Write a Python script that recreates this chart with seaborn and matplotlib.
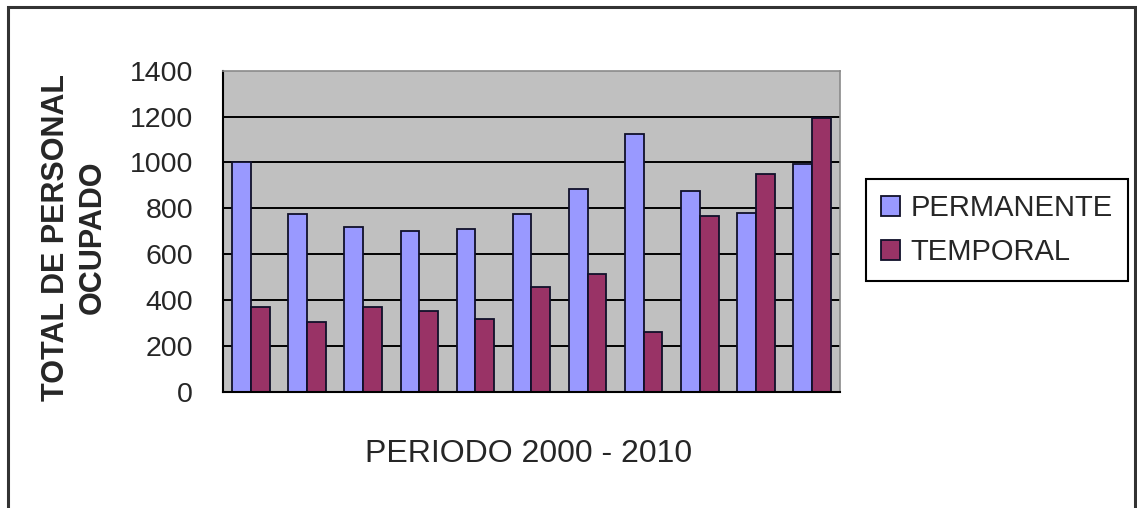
import numpy as np
import pandas as pd
import matplotlib
matplotlib.use("Agg")
import matplotlib.pyplot as plt
import seaborn as sns
from matplotlib.patches import Rectangle

# Personal ocupado por año, 2000-2010
periodos = ["2000", "2001", "2002", "2003", "2004", "2005",
            "2006", "2007", "2008", "2009", "2010"]
permanente = [1000, 775, 720, 700, 710, 775, 885, 1125, 875, 780, 995]
temporal = [370, 305, 370, 350, 318, 458, 512, 262, 768, 950, 1195]
series = ["PERMANENTE", "TEMPORAL"]
colores = ["#9999FF", "#993366"]
yticks = [0, 200, 400, 600, 800, 1000, 1200, 1400]

sns.set_style("white")
plt.rcParams["font.family"] = ["Liberation Sans", "DejaVu Sans"]

df = pd.DataFrame({
    "periodo": periodos * 2,
    "personal": permanente + temporal,
    "tipo": [series[0]] * len(periodos) + [series[1]] * len(periodos),
})

fig = plt.figure(figsize=(11.37, 5.08), dpi=100)
ax = fig.add_axes([0.1961, 0.2289, 0.5427, 0.6319])

sns.barplot(data=df, x="periodo", y="personal", hue="tipo",
            order=periodos, hue_order=series, palette=colores,
            width=0.67, saturation=1, edgecolor="#10102a", linewidth=1.3,
            errorbar=None, ax=ax)

ax.set_xlim(-0.5, len(periodos) - 0.5)
ax.set_ylim(0, 1400)
ax.set_facecolor("#C0C0C0")

ax.set_yticks(yticks)
ax.set_yticklabels([str(v) for v in yticks], fontsize=20.5)
ax.set_xticks(np.arange(-0.5, len(periodos), 1))
ax.set_xticklabels([])
ax.tick_params(axis="y", direction="inout", length=11, width=1.3,
               color="black", pad=16)
ax.tick_params(axis="x", direction="out", length=8, width=1.3, color="black")

# horizontal gridlines (the top edge stays as the grey plot-area border)
ax.yaxis.grid(True, color="black", linewidth=1.4)
ax.xaxis.grid(False)
ax.set_axisbelow(True)
for gl, v in zip(ax.get_ygridlines(), yticks):
    if v in (0, 1400):
        gl.set_visible(False)

for side in ("left", "bottom"):
    ax.spines[side].set_color("black")
    ax.spines[side].set_linewidth(1.5)
for side in ("top", "right"):
    ax.spines[side].set_color("#8a8a8a")
    ax.spines[side].set_linewidth(1.2)

ax.set_ylabel("TOTAL DE PERSONAL\nOCUPADO", fontsize=22, fontweight="bold",
              linespacing=1.3)
ax.yaxis.set_label_coords(-0.186, 0.48)
ax.set_xlabel("PERIODO 2000 - 2010", fontsize=23)
ax.xaxis.set_label_coords(0.495, -0.147)

handles, labels = ax.get_legend_handles_labels()
if ax.get_legend() is not None:
    ax.get_legend().remove()
leg = fig.legend(handles, labels, loc="center left",
                 bbox_to_anchor=(0.7617, 0.5472), fontsize=21,
                 frameon=True, fancybox=False, edgecolor="black",
                 framealpha=1, borderaxespad=0, handlelength=0.68,
                 handleheight=0.68, handletextpad=0.35, labelspacing=0.55,
                 borderpad=0.5)
leg.get_frame().set_linewidth(1.5)

# chart-area border
fig.patches.append(Rectangle((0.007, -0.1), 0.9915, 1.0862,
                             transform=fig.transFigure, fill=False,
                             edgecolor="#333333", linewidth=2.2))

fig.savefig("out.png", dpi=100)
